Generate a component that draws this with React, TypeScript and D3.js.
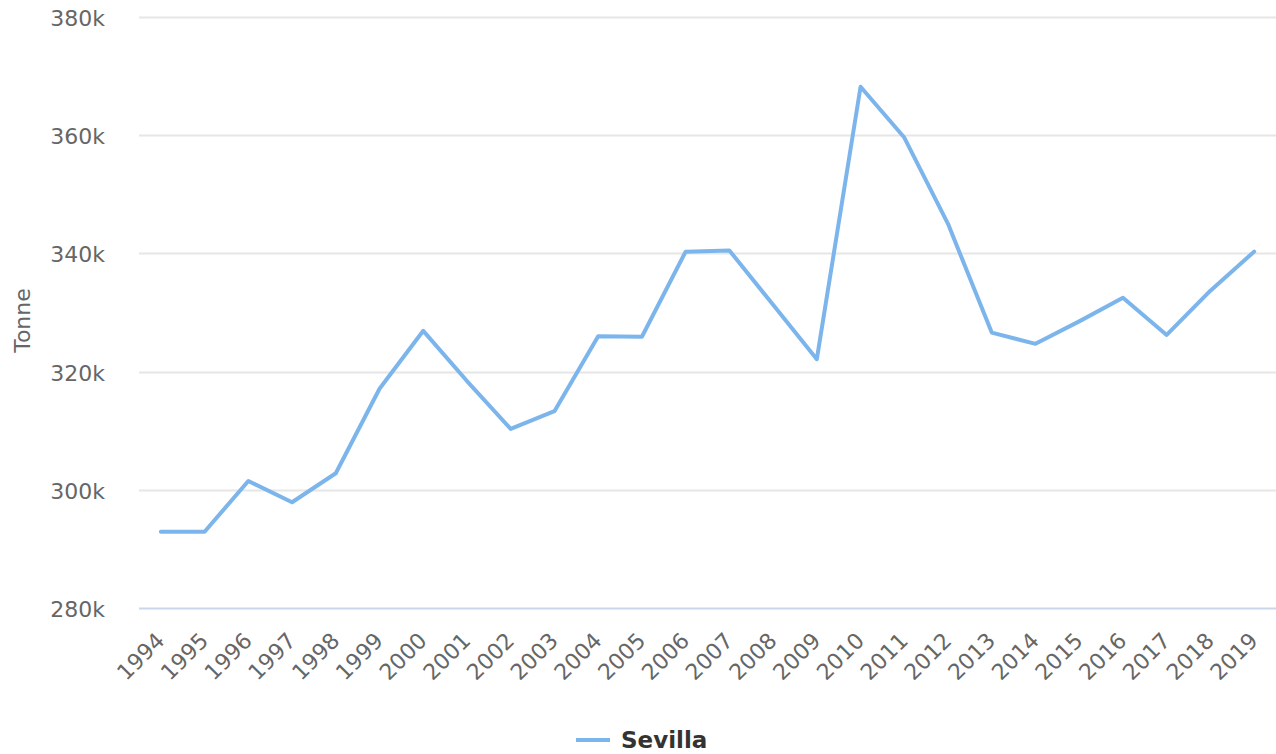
import React, { useEffect, useRef } from 'react'
import * as d3 from 'd3'

const years = [
  '1994', '1995', '1996', '1997', '1998', '1999', '2000', '2001', '2002', '2003',
  '2004', '2005', '2006', '2007', '2008', '2009', '2010', '2011', '2012', '2013',
  '2014', '2015', '2016', '2017', '2018', '2019',
]
const sevilla = [
  292.9, 292.9, 301.5, 297.9, 302.8, 317.1, 326.9, 318.4, 310.3, 313.3,
  326.0, 325.9, 340.3, 340.5, 331.3, 322.1, 368.2, 359.6, 345.0, 326.6,
  324.7, 328.5, 332.5, 326.2, 333.7, 340.3,
].map(v => v * 1000)
const yTicks = [280000, 300000, 320000, 340000, 360000, 380000]
const seriesName = 'Sevilla'
const axisTitle = 'Tonne'

const W = 1276
const H = 754
const FONT = '"DejaVu Sans", sans-serif'

const App = () => {
  const ref = useRef<SVGSVGElement>(null)

  useEffect(() => {
    document.body.style.margin = '0'
    const left = 139
    const right = 1276
    const top = 17
    const bottom = 608

    const x = d3.scaleBand().domain(years).range([left, right])
    const y = d3.scaleLinear().domain([280000, 380000]).range([bottom, top])
    const cx = (d: string) => (x(d) as number) + x.bandwidth() / 2

    const svg = d3.select(ref.current)
    svg.selectAll('*').remove()

    // grid
    svg
      .append('g')
      .selectAll('line')
      .data(yTicks.slice(1))
      .enter()
      .append('line')
      .attr('x1', left)
      .attr('x2', right)
      .attr('y1', d => Math.round(y(d)) + 0.5)
      .attr('y2', d => Math.round(y(d)) + 0.5)
      .attr('stroke', '#e6e6e6')
      .attr('stroke-width', 2)

    svg
      .append('line')
      .attr('x1', left)
      .attr('x2', right)
      .attr('y1', Math.round(y(280000)) + 0.5)
      .attr('y2', Math.round(y(280000)) + 0.5)
      .attr('stroke', '#ccd6eb')
      .attr('stroke-width', 2)

    svg
      .append('g')
      .selectAll('text')
      .data(yTicks)
      .enter()
      .append('text')
      .attr('x', 105)
      .attr('y', d => y(d) + 9)
      .attr('text-anchor', 'end')
      .attr('font-family', FONT)
      .attr('font-size', 22)
      .attr('fill', '#666666')
      .text(d => d3.format('d')(d / 1000) + 'k')

    svg
      .append('text')
      .attr('transform', `translate(30, ${(top + bottom) / 2 + 8}) rotate(-90)`)
      .attr('text-anchor', 'middle')
      .attr('font-family', FONT)
      .attr('font-size', 22)
      .attr('fill', '#666666')
      .text(axisTitle)

    svg
      .append('g')
      .selectAll('text')
      .data(years)
      .enter()
      .append('text')
      .attr('transform', d => `translate(${cx(d) + 5}, ${bottom + 34}) rotate(-45)`)
      .attr('text-anchor', 'end')
      .attr('font-family', FONT)
      .attr('font-size', 22)
      .attr('fill', '#666666')
      .text(d => d)

    const line = d3
      .line<number>()
      .x((_, i) => cx(years[i]))
      .y(d => y(d))

    svg
      .append('path')
      .datum(sevilla)
      .attr('d', line)
      .attr('fill', 'none')
      .attr('stroke', '#7cb5ec')
      .attr('stroke-width', 4)
      .attr('stroke-linejoin', 'round')
      .attr('stroke-linecap', 'round')

    // legend
    const lg = svg.append('g')
    lg.append('line')
      .attr('x1', 576)
      .attr('x2', 610)
      .attr('y1', 740)
      .attr('y2', 740)
      .attr('stroke', '#7cb5ec')
      .attr('stroke-width', 4)
    lg.append('text')
      .attr('x', 621)
      .attr('y', 748)
      .attr('font-family', FONT)
      .attr('font-size', 23)
      .attr('font-weight', 'bold')
      .attr('fill', '#333333')
      .text(seriesName)
  }, [])

  return (
    <div style={{ position: 'absolute', left: 0, top: 0 }}>
      <svg ref={ref} width={W} height={H} style={{ display: 'block', background: '#fff' }}></svg>
    </div>
  )
}

export default App
